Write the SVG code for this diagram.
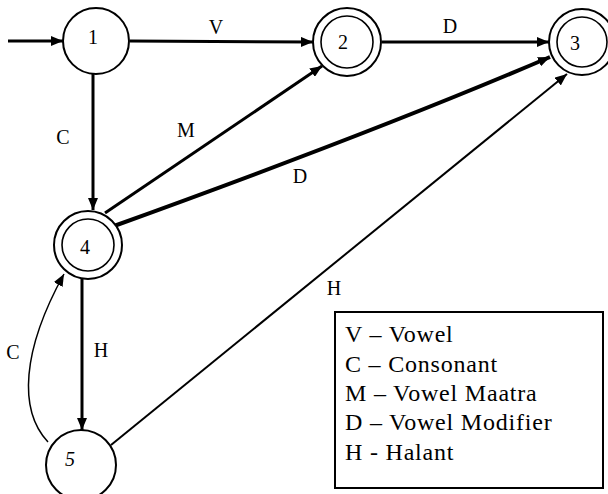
<svg xmlns="http://www.w3.org/2000/svg" width="608" height="494" viewBox="0 0 608 494">
<defs>
<style>
text{font-family:'Liberation Serif','DejaVu Serif','Times New Roman',serif;fill:#000}
.st{fill:#fff;stroke:#000;stroke-width:2}
.ring{fill:none;stroke:#000;stroke-width:1.6}
.lbl{font-size:20px;text-anchor:middle}
.nl{font-size:20px;text-anchor:middle}
.e{fill:none;stroke:#000}
.leg{font-size:24px;letter-spacing:0.8px}
</style>
<marker id="ah" markerUnits="userSpaceOnUse" markerWidth="12" markerHeight="10" refX="12" refY="5" orient="auto">
<path d="M0,0 L12,5 L0,10 Z" fill="#000"/>
</marker>
</defs>
<g id="connectors">
<path class="e" stroke-width="3" d="M8,41 L63,41" marker-end="url(#ah)"/>
<path class="e" stroke-width="3" d="M130,41 L313,42" marker-end="url(#ah)"/>
<path class="e" stroke-width="3" d="M382,42 L549,42" marker-end="url(#ah)"/>
<path class="e" stroke-width="3" d="M93,74 L93,210" marker-end="url(#ah)"/>
<path class="e" stroke-width="3" d="M105,213 L322,66" marker-end="url(#ah)"/>
<path class="e" stroke-width="4" d="M114,226 Q380,130 550,57" marker-end="url(#ah)"/>
<path class="e" stroke-width="3" d="M82,279 L82,430" marker-end="url(#ah)"/>
<path class="e" stroke-width="2" d="M111,445 L567,74" marker-end="url(#ah)"/>
<path class="e" stroke-width="1.5" d="M48,442 C18,410 22,350 64,274" marker-end="url(#ah)"/>
<text class="lbl" x="216" y="34">V</text>
<text class="lbl" x="450" y="33">D</text>
<text class="lbl" x="63" y="144">C</text>
<text class="lbl" x="186" y="137">M</text>
<text class="lbl" x="300" y="183">D</text>
<text class="lbl" x="101" y="357">H</text>
<text class="lbl" x="13" y="359">C</text>
<text class="lbl" x="334" y="295">H</text>
</g>
<g id="node1">
<circle class="st" cx="96" cy="41" r="33"/>
<text class="nl" x="93" y="44">1</text>
</g>
<g id="node2">
<circle class="st" cx="347" cy="42" r="34"/>
<circle class="ring" cx="347" cy="42" r="26"/>
<text class="nl" x="343" y="49">2</text>
</g>
<g id="node3">
<circle class="st" cx="582" cy="42" r="33"/>
<circle class="ring" cx="582" cy="42" r="25"/>
<text class="nl" x="575" y="50">3</text>
</g>
<g id="node4">
<circle class="st" cx="88" cy="245" r="34"/>
<circle class="ring" cx="88" cy="245" r="26"/>
<text class="nl" x="85" y="254">4</text>
</g>
<g id="node5">
<circle class="st" cx="81" cy="465" r="35"/>
<text class="nl" x="70" y="466" font-style="italic">5</text>
</g>
<g id="legend">
<rect x="335" y="312" width="268" height="176" fill="#fff" stroke="#000" stroke-width="2"/>
<text class="leg" x="345" y="342">V – Vowel</text>
<text class="leg" x="345" y="372">C – Consonant</text>
<text class="leg" x="345" y="401">M – Vowel Maatra</text>
<text class="leg" x="345" y="430">D – Vowel Modifier</text>
<text class="leg" x="345" y="460">H - Halant</text>
</g>
</svg>
